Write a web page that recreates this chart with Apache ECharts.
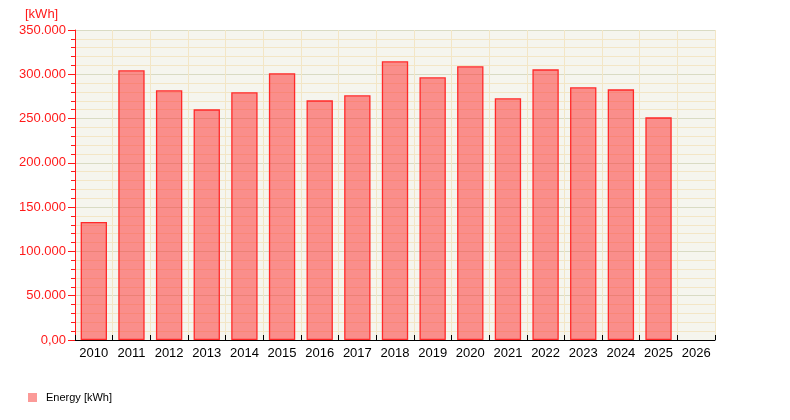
<!DOCTYPE html>
<html>
<head>
<meta charset="utf-8">
<script src="https://cdn.jsdelivr.net/npm/echarts@6/dist/echarts.min.js"></script>
<style>
html,body{margin:0;padding:0;background:#fff;}
#chart{width:790px;height:420px;}
</style>
</head>
<body>
<div id="chart"></div>
<script>
var years = ['2010','2011','2012','2013','2014','2015','2016','2017','2018','2019','2020','2021','2022','2023','2024','2025','2026'];
var energy = [133200, 304500, 281900, 260400, 279700, 301100, 270600, 276300, 314700, 296600, 309000, 272900, 305600, 285300, 283000, 251400, null];
var seriesName = 'Energy [kWh]';
var unitLabel = '[kWh]';

var chart = echarts.init(document.getElementById('chart'), null, {renderer: 'canvas'});
var font = 'Liberation Sans, Arial, sans-serif';
chart.setOption({
  animation: false,
  textStyle: {fontFamily: font},
  grid: {
    left: 75, right: 75, top: 30, bottom: 80,
    show: true, backgroundColor: '#f5f5ee', borderWidth: 0
  },
  legend: {
    data: [seriesName],
    left: 28, top: 392, padding: 0,
    icon: 'rect', itemWidth: 9, itemHeight: 9,
    itemStyle: {borderWidth: 0, color: '#fb9a98'},
    textStyle: {fontSize: 11, color: '#000', fontFamily: font, padding: [0,0,0,4]}
  },
  graphic: [{
    type: 'text', left: 25, top: 8,
    style: {text: unitLabel, fill: '#ff1a1a', font: '13px ' + font}
  }],
  xAxis: {
    type: 'category',
    data: years,
    boundaryGap: true,
    axisLine: {lineStyle: {color: '#000', width: 1}},
    axisTick: {show: true, inside: true, length: 5, alignWithLabel: false, lineStyle: {color: '#000'}},
    axisLabel: {color: '#000', fontSize: 13, margin: 7, fontFamily: font, interval: 0},
    splitLine: {show: true, lineStyle: {color: '#f3e6c6', width: 1}}
  },
  yAxis: {
    type: 'value',
    min: 0, max: 350000, interval: 50000,
    axisLine: {show: true, lineStyle: {color: '#ff1a1a', width: 1}},
    axisTick: {show: true, length: 7, lineStyle: {color: '#ff1a1a'}},
    minorTick: {show: true, splitNumber: 5, length: 4, lineStyle: {color: '#ff1a1a'}},
    axisLabel: {
      color: '#ff1a1a', fontSize: 13, margin: 9, fontFamily: font,
      formatter: function (v) {
        if (v === 0) return '0,00';
        return String(v).replace(/\B(?=(\d{3})+(?!\d))/g, '.');
      }
    },
    splitLine: {show: true, lineStyle: {color: '#d9dbc3', width: 1}},
    minorSplitLine: {show: true, lineStyle: {color: '#f3e6c6', width: 1}}
  },
  series: [{
    name: seriesName,
    type: 'bar',
    data: energy,
    barCategoryGap: '30%',
    itemStyle: {color: 'rgba(255,40,40,0.5)', borderColor: '#ff2a2a', borderWidth: 1.3}
  }]
});
</script>
</body>
</html>
